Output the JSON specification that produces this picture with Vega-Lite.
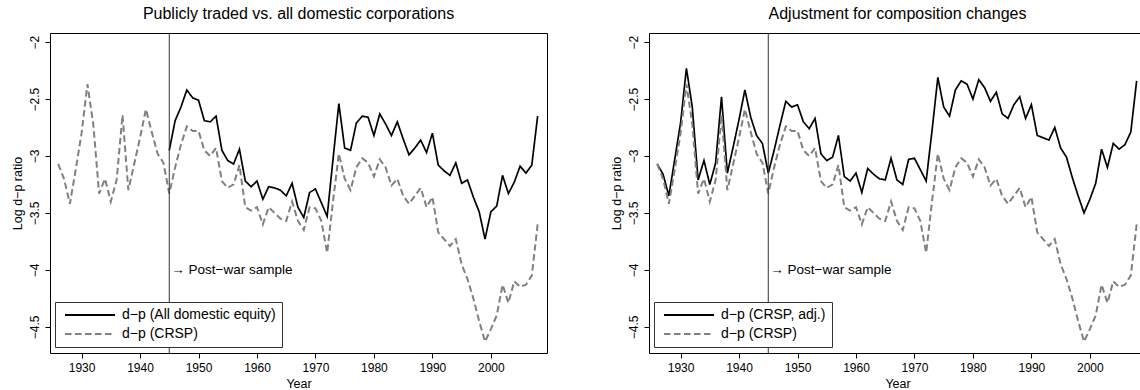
{
  "$schema": "https://vega.github.io/schema/vega-lite/v6.json",
  "background": "white",
  "padding": {"left": 10, "top": 5, "right": 0, "bottom": 0},
  "spacing": 61,
  "datasets": {
    "crsp": [
      {"year": 1926, "dp": -3.07, "series": "d−p (CRSP)"},
      {"year": 1927, "dp": -3.2, "series": "d−p (CRSP)"},
      {"year": 1928, "dp": -3.42, "series": "d−p (CRSP)"},
      {"year": 1929, "dp": -3.12, "series": "d−p (CRSP)"},
      {"year": 1930, "dp": -2.8, "series": "d−p (CRSP)"},
      {"year": 1931, "dp": -2.37, "series": "d−p (CRSP)"},
      {"year": 1932, "dp": -2.72, "series": "d−p (CRSP)"},
      {"year": 1933, "dp": -3.33, "series": "d−p (CRSP)"},
      {"year": 1934, "dp": -3.2, "series": "d−p (CRSP)"},
      {"year": 1935, "dp": -3.4, "series": "d−p (CRSP)"},
      {"year": 1936, "dp": -3.21, "series": "d−p (CRSP)"},
      {"year": 1937, "dp": -2.64, "series": "d−p (CRSP)"},
      {"year": 1938, "dp": -3.3, "series": "d−p (CRSP)"},
      {"year": 1939, "dp": -3.07, "series": "d−p (CRSP)"},
      {"year": 1940, "dp": -2.84, "series": "d−p (CRSP)"},
      {"year": 1941, "dp": -2.59, "series": "d−p (CRSP)"},
      {"year": 1942, "dp": -2.79, "series": "d−p (CRSP)"},
      {"year": 1943, "dp": -2.98, "series": "d−p (CRSP)"},
      {"year": 1944, "dp": -3.06, "series": "d−p (CRSP)"},
      {"year": 1945, "dp": -3.33, "series": "d−p (CRSP)"},
      {"year": 1946, "dp": -3.1, "series": "d−p (CRSP)"},
      {"year": 1947, "dp": -2.9, "series": "d−p (CRSP)"},
      {"year": 1948, "dp": -2.74, "series": "d−p (CRSP)"},
      {"year": 1949, "dp": -2.78, "series": "d−p (CRSP)"},
      {"year": 1950, "dp": -2.78, "series": "d−p (CRSP)"},
      {"year": 1951, "dp": -2.95, "series": "d−p (CRSP)"},
      {"year": 1952, "dp": -3.0, "series": "d−p (CRSP)"},
      {"year": 1953, "dp": -2.93, "series": "d−p (CRSP)"},
      {"year": 1954, "dp": -3.22, "series": "d−p (CRSP)"},
      {"year": 1955, "dp": -3.28, "series": "d−p (CRSP)"},
      {"year": 1956, "dp": -3.25, "series": "d−p (CRSP)"},
      {"year": 1957, "dp": -3.08, "series": "d−p (CRSP)"},
      {"year": 1958, "dp": -3.45, "series": "d−p (CRSP)"},
      {"year": 1959, "dp": -3.48, "series": "d−p (CRSP)"},
      {"year": 1960, "dp": -3.45, "series": "d−p (CRSP)"},
      {"year": 1961, "dp": -3.6, "series": "d−p (CRSP)"},
      {"year": 1962, "dp": -3.45, "series": "d−p (CRSP)"},
      {"year": 1963, "dp": -3.5, "series": "d−p (CRSP)"},
      {"year": 1964, "dp": -3.55, "series": "d−p (CRSP)"},
      {"year": 1965, "dp": -3.57, "series": "d−p (CRSP)"},
      {"year": 1966, "dp": -3.4, "series": "d−p (CRSP)"},
      {"year": 1967, "dp": -3.57, "series": "d−p (CRSP)"},
      {"year": 1968, "dp": -3.65, "series": "d−p (CRSP)"},
      {"year": 1969, "dp": -3.45, "series": "d−p (CRSP)"},
      {"year": 1970, "dp": -3.46, "series": "d−p (CRSP)"},
      {"year": 1971, "dp": -3.57, "series": "d−p (CRSP)"},
      {"year": 1972, "dp": -3.85, "series": "d−p (CRSP)"},
      {"year": 1973, "dp": -3.4, "series": "d−p (CRSP)"},
      {"year": 1974, "dp": -2.98, "series": "d−p (CRSP)"},
      {"year": 1975, "dp": -3.2, "series": "d−p (CRSP)"},
      {"year": 1976, "dp": -3.3, "series": "d−p (CRSP)"},
      {"year": 1977, "dp": -3.1, "series": "d−p (CRSP)"},
      {"year": 1978, "dp": -3.02, "series": "d−p (CRSP)"},
      {"year": 1979, "dp": -3.06, "series": "d−p (CRSP)"},
      {"year": 1980, "dp": -3.18, "series": "d−p (CRSP)"},
      {"year": 1981, "dp": -3.03, "series": "d−p (CRSP)"},
      {"year": 1982, "dp": -3.1, "series": "d−p (CRSP)"},
      {"year": 1983, "dp": -3.26, "series": "d−p (CRSP)"},
      {"year": 1984, "dp": -3.2, "series": "d−p (CRSP)"},
      {"year": 1985, "dp": -3.35, "series": "d−p (CRSP)"},
      {"year": 1986, "dp": -3.42, "series": "d−p (CRSP)"},
      {"year": 1987, "dp": -3.35, "series": "d−p (CRSP)"},
      {"year": 1988, "dp": -3.28, "series": "d−p (CRSP)"},
      {"year": 1989, "dp": -3.45, "series": "d−p (CRSP)"},
      {"year": 1990, "dp": -3.36, "series": "d−p (CRSP)"},
      {"year": 1991, "dp": -3.67, "series": "d−p (CRSP)"},
      {"year": 1992, "dp": -3.73, "series": "d−p (CRSP)"},
      {"year": 1993, "dp": -3.79, "series": "d−p (CRSP)"},
      {"year": 1994, "dp": -3.73, "series": "d−p (CRSP)"},
      {"year": 1995, "dp": -3.95, "series": "d−p (CRSP)"},
      {"year": 1996, "dp": -4.08, "series": "d−p (CRSP)"},
      {"year": 1997, "dp": -4.25, "series": "d−p (CRSP)"},
      {"year": 1998, "dp": -4.45, "series": "d−p (CRSP)"},
      {"year": 1999, "dp": -4.63, "series": "d−p (CRSP)"},
      {"year": 2000, "dp": -4.52, "series": "d−p (CRSP)"},
      {"year": 2001, "dp": -4.4, "series": "d−p (CRSP)"},
      {"year": 2002, "dp": -4.13, "series": "d−p (CRSP)"},
      {"year": 2003, "dp": -4.29, "series": "d−p (CRSP)"},
      {"year": 2004, "dp": -4.1, "series": "d−p (CRSP)"},
      {"year": 2005, "dp": -4.15, "series": "d−p (CRSP)"},
      {"year": 2006, "dp": -4.13, "series": "d−p (CRSP)"},
      {"year": 2007, "dp": -4.05, "series": "d−p (CRSP)"},
      {"year": 2008, "dp": -3.6, "series": "d−p (CRSP)"}
    ],
    "alldom": [
      {"year": 1945, "dp": -2.95, "series": "d−p (All domestic equity)"},
      {"year": 1946, "dp": -2.69, "series": "d−p (All domestic equity)"},
      {"year": 1947, "dp": -2.57, "series": "d−p (All domestic equity)"},
      {"year": 1948, "dp": -2.42, "series": "d−p (All domestic equity)"},
      {"year": 1949, "dp": -2.49, "series": "d−p (All domestic equity)"},
      {"year": 1950, "dp": -2.51, "series": "d−p (All domestic equity)"},
      {"year": 1951, "dp": -2.69, "series": "d−p (All domestic equity)"},
      {"year": 1952, "dp": -2.7, "series": "d−p (All domestic equity)"},
      {"year": 1953, "dp": -2.65, "series": "d−p (All domestic equity)"},
      {"year": 1954, "dp": -2.95, "series": "d−p (All domestic equity)"},
      {"year": 1955, "dp": -3.04, "series": "d−p (All domestic equity)"},
      {"year": 1956, "dp": -3.07, "series": "d−p (All domestic equity)"},
      {"year": 1957, "dp": -2.94, "series": "d−p (All domestic equity)"},
      {"year": 1958, "dp": -3.22, "series": "d−p (All domestic equity)"},
      {"year": 1959, "dp": -3.27, "series": "d−p (All domestic equity)"},
      {"year": 1960, "dp": -3.22, "series": "d−p (All domestic equity)"},
      {"year": 1961, "dp": -3.38, "series": "d−p (All domestic equity)"},
      {"year": 1962, "dp": -3.27, "series": "d−p (All domestic equity)"},
      {"year": 1963, "dp": -3.28, "series": "d−p (All domestic equity)"},
      {"year": 1964, "dp": -3.3, "series": "d−p (All domestic equity)"},
      {"year": 1965, "dp": -3.35, "series": "d−p (All domestic equity)"},
      {"year": 1966, "dp": -3.24, "series": "d−p (All domestic equity)"},
      {"year": 1967, "dp": -3.45, "series": "d−p (All domestic equity)"},
      {"year": 1968, "dp": -3.54, "series": "d−p (All domestic equity)"},
      {"year": 1969, "dp": -3.32, "series": "d−p (All domestic equity)"},
      {"year": 1970, "dp": -3.29, "series": "d−p (All domestic equity)"},
      {"year": 1971, "dp": -3.41, "series": "d−p (All domestic equity)"},
      {"year": 1972, "dp": -3.53, "series": "d−p (All domestic equity)"},
      {"year": 1973, "dp": -3.03, "series": "d−p (All domestic equity)"},
      {"year": 1974, "dp": -2.54, "series": "d−p (All domestic equity)"},
      {"year": 1975, "dp": -2.93, "series": "d−p (All domestic equity)"},
      {"year": 1976, "dp": -2.95, "series": "d−p (All domestic equity)"},
      {"year": 1977, "dp": -2.71, "series": "d−p (All domestic equity)"},
      {"year": 1978, "dp": -2.65, "series": "d−p (All domestic equity)"},
      {"year": 1979, "dp": -2.66, "series": "d−p (All domestic equity)"},
      {"year": 1980, "dp": -2.82, "series": "d−p (All domestic equity)"},
      {"year": 1981, "dp": -2.63, "series": "d−p (All domestic equity)"},
      {"year": 1982, "dp": -2.72, "series": "d−p (All domestic equity)"},
      {"year": 1983, "dp": -2.82, "series": "d−p (All domestic equity)"},
      {"year": 1984, "dp": -2.7, "series": "d−p (All domestic equity)"},
      {"year": 1985, "dp": -2.85, "series": "d−p (All domestic equity)"},
      {"year": 1986, "dp": -2.99, "series": "d−p (All domestic equity)"},
      {"year": 1987, "dp": -2.93, "series": "d−p (All domestic equity)"},
      {"year": 1988, "dp": -2.86, "series": "d−p (All domestic equity)"},
      {"year": 1989, "dp": -2.97, "series": "d−p (All domestic equity)"},
      {"year": 1990, "dp": -2.8, "series": "d−p (All domestic equity)"},
      {"year": 1991, "dp": -3.08, "series": "d−p (All domestic equity)"},
      {"year": 1992, "dp": -3.13, "series": "d−p (All domestic equity)"},
      {"year": 1993, "dp": -3.17, "series": "d−p (All domestic equity)"},
      {"year": 1994, "dp": -3.06, "series": "d−p (All domestic equity)"},
      {"year": 1995, "dp": -3.24, "series": "d−p (All domestic equity)"},
      {"year": 1996, "dp": -3.21, "series": "d−p (All domestic equity)"},
      {"year": 1997, "dp": -3.36, "series": "d−p (All domestic equity)"},
      {"year": 1998, "dp": -3.49, "series": "d−p (All domestic equity)"},
      {"year": 1999, "dp": -3.73, "series": "d−p (All domestic equity)"},
      {"year": 2000, "dp": -3.49, "series": "d−p (All domestic equity)"},
      {"year": 2001, "dp": -3.44, "series": "d−p (All domestic equity)"},
      {"year": 2002, "dp": -3.17, "series": "d−p (All domestic equity)"},
      {"year": 2003, "dp": -3.33, "series": "d−p (All domestic equity)"},
      {"year": 2004, "dp": -3.23, "series": "d−p (All domestic equity)"},
      {"year": 2005, "dp": -3.09, "series": "d−p (All domestic equity)"},
      {"year": 2006, "dp": -3.15, "series": "d−p (All domestic equity)"},
      {"year": 2007, "dp": -3.08, "series": "d−p (All domestic equity)"},
      {"year": 2008, "dp": -2.65, "series": "d−p (All domestic equity)"}
    ],
    "adj": [
      {"year": 1926, "dp": -3.07, "series": "d−p (CRSP, adj.)"},
      {"year": 1927, "dp": -3.16, "series": "d−p (CRSP, adj.)"},
      {"year": 1928, "dp": -3.35, "series": "d−p (CRSP, adj.)"},
      {"year": 1929, "dp": -3.03, "series": "d−p (CRSP, adj.)"},
      {"year": 1930, "dp": -2.71, "series": "d−p (CRSP, adj.)"},
      {"year": 1931, "dp": -2.23, "series": "d−p (CRSP, adj.)"},
      {"year": 1932, "dp": -2.57, "series": "d−p (CRSP, adj.)"},
      {"year": 1933, "dp": -3.21, "series": "d−p (CRSP, adj.)"},
      {"year": 1934, "dp": -3.04, "series": "d−p (CRSP, adj.)"},
      {"year": 1935, "dp": -3.25, "series": "d−p (CRSP, adj.)"},
      {"year": 1936, "dp": -3.06, "series": "d−p (CRSP, adj.)"},
      {"year": 1937, "dp": -2.48, "series": "d−p (CRSP, adj.)"},
      {"year": 1938, "dp": -3.15, "series": "d−p (CRSP, adj.)"},
      {"year": 1939, "dp": -2.92, "series": "d−p (CRSP, adj.)"},
      {"year": 1940, "dp": -2.68, "series": "d−p (CRSP, adj.)"},
      {"year": 1941, "dp": -2.42, "series": "d−p (CRSP, adj.)"},
      {"year": 1942, "dp": -2.66, "series": "d−p (CRSP, adj.)"},
      {"year": 1943, "dp": -2.82, "series": "d−p (CRSP, adj.)"},
      {"year": 1944, "dp": -2.89, "series": "d−p (CRSP, adj.)"},
      {"year": 1945, "dp": -3.15, "series": "d−p (CRSP, adj.)"},
      {"year": 1946, "dp": -2.95, "series": "d−p (CRSP, adj.)"},
      {"year": 1947, "dp": -2.73, "series": "d−p (CRSP, adj.)"},
      {"year": 1948, "dp": -2.52, "series": "d−p (CRSP, adj.)"},
      {"year": 1949, "dp": -2.57, "series": "d−p (CRSP, adj.)"},
      {"year": 1950, "dp": -2.55, "series": "d−p (CRSP, adj.)"},
      {"year": 1951, "dp": -2.7, "series": "d−p (CRSP, adj.)"},
      {"year": 1952, "dp": -2.76, "series": "d−p (CRSP, adj.)"},
      {"year": 1953, "dp": -2.67, "series": "d−p (CRSP, adj.)"},
      {"year": 1954, "dp": -2.98, "series": "d−p (CRSP, adj.)"},
      {"year": 1955, "dp": -3.04, "series": "d−p (CRSP, adj.)"},
      {"year": 1956, "dp": -3.01, "series": "d−p (CRSP, adj.)"},
      {"year": 1957, "dp": -2.82, "series": "d−p (CRSP, adj.)"},
      {"year": 1958, "dp": -3.18, "series": "d−p (CRSP, adj.)"},
      {"year": 1959, "dp": -3.22, "series": "d−p (CRSP, adj.)"},
      {"year": 1960, "dp": -3.15, "series": "d−p (CRSP, adj.)"},
      {"year": 1961, "dp": -3.32, "series": "d−p (CRSP, adj.)"},
      {"year": 1962, "dp": -3.11, "series": "d−p (CRSP, adj.)"},
      {"year": 1963, "dp": -3.16, "series": "d−p (CRSP, adj.)"},
      {"year": 1964, "dp": -3.2, "series": "d−p (CRSP, adj.)"},
      {"year": 1965, "dp": -3.21, "series": "d−p (CRSP, adj.)"},
      {"year": 1966, "dp": -3.02, "series": "d−p (CRSP, adj.)"},
      {"year": 1967, "dp": -3.21, "series": "d−p (CRSP, adj.)"},
      {"year": 1968, "dp": -3.25, "series": "d−p (CRSP, adj.)"},
      {"year": 1969, "dp": -3.03, "series": "d−p (CRSP, adj.)"},
      {"year": 1970, "dp": -3.02, "series": "d−p (CRSP, adj.)"},
      {"year": 1971, "dp": -3.12, "series": "d−p (CRSP, adj.)"},
      {"year": 1972, "dp": -3.22, "series": "d−p (CRSP, adj.)"},
      {"year": 1973, "dp": -2.78, "series": "d−p (CRSP, adj.)"},
      {"year": 1974, "dp": -2.31, "series": "d−p (CRSP, adj.)"},
      {"year": 1975, "dp": -2.57, "series": "d−p (CRSP, adj.)"},
      {"year": 1976, "dp": -2.65, "series": "d−p (CRSP, adj.)"},
      {"year": 1977, "dp": -2.42, "series": "d−p (CRSP, adj.)"},
      {"year": 1978, "dp": -2.34, "series": "d−p (CRSP, adj.)"},
      {"year": 1979, "dp": -2.37, "series": "d−p (CRSP, adj.)"},
      {"year": 1980, "dp": -2.5, "series": "d−p (CRSP, adj.)"},
      {"year": 1981, "dp": -2.33, "series": "d−p (CRSP, adj.)"},
      {"year": 1982, "dp": -2.4, "series": "d−p (CRSP, adj.)"},
      {"year": 1983, "dp": -2.52, "series": "d−p (CRSP, adj.)"},
      {"year": 1984, "dp": -2.44, "series": "d−p (CRSP, adj.)"},
      {"year": 1985, "dp": -2.63, "series": "d−p (CRSP, adj.)"},
      {"year": 1986, "dp": -2.67, "series": "d−p (CRSP, adj.)"},
      {"year": 1987, "dp": -2.55, "series": "d−p (CRSP, adj.)"},
      {"year": 1988, "dp": -2.48, "series": "d−p (CRSP, adj.)"},
      {"year": 1989, "dp": -2.67, "series": "d−p (CRSP, adj.)"},
      {"year": 1990, "dp": -2.55, "series": "d−p (CRSP, adj.)"},
      {"year": 1991, "dp": -2.82, "series": "d−p (CRSP, adj.)"},
      {"year": 1992, "dp": -2.84, "series": "d−p (CRSP, adj.)"},
      {"year": 1993, "dp": -2.86, "series": "d−p (CRSP, adj.)"},
      {"year": 1994, "dp": -2.75, "series": "d−p (CRSP, adj.)"},
      {"year": 1995, "dp": -2.93, "series": "d−p (CRSP, adj.)"},
      {"year": 1996, "dp": -3.01, "series": "d−p (CRSP, adj.)"},
      {"year": 1997, "dp": -3.19, "series": "d−p (CRSP, adj.)"},
      {"year": 1998, "dp": -3.35, "series": "d−p (CRSP, adj.)"},
      {"year": 1999, "dp": -3.5, "series": "d−p (CRSP, adj.)"},
      {"year": 2000, "dp": -3.38, "series": "d−p (CRSP, adj.)"},
      {"year": 2001, "dp": -3.24, "series": "d−p (CRSP, adj.)"},
      {"year": 2002, "dp": -2.94, "series": "d−p (CRSP, adj.)"},
      {"year": 2003, "dp": -3.1, "series": "d−p (CRSP, adj.)"},
      {"year": 2004, "dp": -2.89, "series": "d−p (CRSP, adj.)"},
      {"year": 2005, "dp": -2.94, "series": "d−p (CRSP, adj.)"},
      {"year": 2006, "dp": -2.9, "series": "d−p (CRSP, adj.)"},
      {"year": 2007, "dp": -2.79, "series": "d−p (CRSP, adj.)"},
      {"year": 2008, "dp": -2.34, "series": "d−p (CRSP, adj.)"}
    ],
    "marker": [
      {"year": 1945, "dp": -4.0, "label": "→ Post−war sample"}
    ]
  },
  "hconcat": [
    {
      "title": "Publicly traded vs. all domestic corporations",
      "width": 497,
      "height": 320,
      "layer": [
        {
          "data": {"name": "alldom"},
          "mark": {"type": "line", "strokeWidth": 1.7},
          "encoding": {
            "x": {"field": "year", "type": "quantitative", "title": "Year",
              "scale": {"domain": [1924.6, 2009.6], "nice": false, "zero": false},
              "axis": {"values": [1930, 1935, 1940, 1945, 1950, 1955, 1960, 1965, 1970, 1975, 1980, 1985, 1990, 1995, 2000, 2005], "format": "d",
                "labelExpr": "datum.value % 10 === 0 ? datum.label : ''",
                "tickSize": {"condition": {"test": "datum.value % 10 === 0", "value": 5}, "value": 3}}},
            "y": {"field": "dp", "type": "quantitative", "title": "Log d−p ratio",
              "scale": {"domain": [-4.73, -1.92], "nice": false, "zero": false},
              "axis": {"values": [-4.5, -4, -3.5, -3, -2.5, -2], "format": "~g"}},
            "color": {"field": "series", "type": "nominal",
              "scale": {"domain": ["d−p (All domestic equity)", "d−p (CRSP)"], "range": ["#000000", "#808080"]},
              "legend": {"orient": "none", "legendX": 5, "legendY": 269}},
            "strokeDash": {"field": "series", "type": "nominal",
              "scale": {"domain": ["d−p (All domestic equity)", "d−p (CRSP)"], "range": [[1, 0], [6.5, 3.5]]},
              "legend": {"orient": "none", "legendX": 5, "legendY": 269}}
          }
        },
        {
          "data": {"name": "crsp"},
          "mark": {"type": "line", "strokeWidth": 2},
          "encoding": {
            "x": {"field": "year", "type": "quantitative", "title": "Year",
              "scale": {"domain": [1924.6, 2009.6], "nice": false, "zero": false}},
            "y": {"field": "dp", "type": "quantitative", "title": "Log d−p ratio",
              "scale": {"domain": [-4.73, -1.92], "nice": false, "zero": false}},
            "color": {"field": "series", "type": "nominal",
              "scale": {"domain": ["d−p (All domestic equity)", "d−p (CRSP)"], "range": ["#000000", "#808080"]},
              "legend": {"orient": "none", "legendX": 5, "legendY": 269}},
            "strokeDash": {"field": "series", "type": "nominal",
              "scale": {"domain": ["d−p (All domestic equity)", "d−p (CRSP)"], "range": [[1, 0], [6.5, 3.5]]},
              "legend": {"orient": "none", "legendX": 5, "legendY": 269}}
          }
        },
        {
          "data": {"name": "marker"},
          "mark": {"type": "rule", "color": "#333333", "strokeWidth": 1},
          "encoding": {
            "x": {"field": "year", "type": "quantitative", "title": "Year",
              "scale": {"domain": [1924.6, 2009.6], "nice": false, "zero": false}}
          }
        },
        {
          "data": {"name": "marker"},
          "mark": {"type": "text", "align": "left", "baseline": "middle", "dx": 2, "fontSize": 13.5, "color": "#000000"},
          "encoding": {
            "x": {"field": "year", "type": "quantitative", "title": "Year",
              "scale": {"domain": [1924.6, 2009.6], "nice": false, "zero": false}},
            "y": {"field": "dp", "type": "quantitative", "title": "Log d−p ratio",
              "scale": {"domain": [-4.73, -1.92], "nice": false, "zero": false}},
            "text": {"field": "label"}
          }
        }
      ]
    },
    {
      "title": "Adjustment for composition changes",
      "width": 497,
      "height": 320,
      "layer": [
        {
          "data": {"name": "adj"},
          "mark": {"type": "line", "strokeWidth": 1.7},
          "encoding": {
            "x": {"field": "year", "type": "quantitative", "title": "Year",
              "scale": {"domain": [1924.6, 2009.6], "nice": false, "zero": false},
              "axis": {"values": [1930, 1935, 1940, 1945, 1950, 1955, 1960, 1965, 1970, 1975, 1980, 1985, 1990, 1995, 2000, 2005], "format": "d",
                "labelExpr": "datum.value % 10 === 0 ? datum.label : ''",
                "tickSize": {"condition": {"test": "datum.value % 10 === 0", "value": 5}, "value": 3}}},
            "y": {"field": "dp", "type": "quantitative", "title": "Log d−p ratio",
              "scale": {"domain": [-4.73, -1.92], "nice": false, "zero": false},
              "axis": {"values": [-4.5, -4, -3.5, -3, -2.5, -2], "format": "~g"}},
            "color": {"field": "series", "type": "nominal",
              "scale": {"domain": ["d−p (CRSP, adj.)", "d−p (CRSP)"], "range": ["#000000", "#808080"]},
              "legend": {"orient": "none", "legendX": 5, "legendY": 269}},
            "strokeDash": {"field": "series", "type": "nominal",
              "scale": {"domain": ["d−p (CRSP, adj.)", "d−p (CRSP)"], "range": [[1, 0], [6.5, 3.5]]},
              "legend": {"orient": "none", "legendX": 5, "legendY": 269}}
          }
        },
        {
          "data": {"name": "crsp"},
          "mark": {"type": "line", "strokeWidth": 2},
          "encoding": {
            "x": {"field": "year", "type": "quantitative", "title": "Year",
              "scale": {"domain": [1924.6, 2009.6], "nice": false, "zero": false}},
            "y": {"field": "dp", "type": "quantitative", "title": "Log d−p ratio",
              "scale": {"domain": [-4.73, -1.92], "nice": false, "zero": false}},
            "color": {"field": "series", "type": "nominal",
              "scale": {"domain": ["d−p (CRSP, adj.)", "d−p (CRSP)"], "range": ["#000000", "#808080"]},
              "legend": {"orient": "none", "legendX": 5, "legendY": 269}},
            "strokeDash": {"field": "series", "type": "nominal",
              "scale": {"domain": ["d−p (CRSP, adj.)", "d−p (CRSP)"], "range": [[1, 0], [6.5, 3.5]]},
              "legend": {"orient": "none", "legendX": 5, "legendY": 269}}
          }
        },
        {
          "data": {"name": "marker"},
          "mark": {"type": "rule", "color": "#333333", "strokeWidth": 1},
          "encoding": {
            "x": {"field": "year", "type": "quantitative", "title": "Year",
              "scale": {"domain": [1924.6, 2009.6], "nice": false, "zero": false}}
          }
        },
        {
          "data": {"name": "marker"},
          "mark": {"type": "text", "align": "left", "baseline": "middle", "dx": 2, "fontSize": 13.5, "color": "#000000"},
          "encoding": {
            "x": {"field": "year", "type": "quantitative", "title": "Year",
              "scale": {"domain": [1924.6, 2009.6], "nice": false, "zero": false}},
            "y": {"field": "dp", "type": "quantitative", "title": "Log d−p ratio",
              "scale": {"domain": [-4.73, -1.92], "nice": false, "zero": false}},
            "text": {"field": "label"}
          }
        }
      ]
    }
  ],
  "resolve": {
    "scale": {"color": "independent", "strokeDash": "independent", "x": "independent", "y": "independent"},
    "legend": {"color": "independent", "strokeDash": "independent"}
  },
  "config": {
    "font": "Liberation Sans",
    "view": {"stroke": "#000000", "strokeWidth": 1},
    "title": {"fontSize": 16, "fontWeight": "normal", "color": "#000000", "offset": 11, "font": "Liberation Sans"},
    "axis": {
      "grid": false, "domain": false, "tickColor": "#000000", "tickWidth": 1,
      "labelColor": "#000000", "labelFontSize": 12, "labelFont": "Liberation Sans",
      "titleColor": "#000000", "titleFontSize": 12.5, "titleFontWeight": "normal", "titleFont": "Liberation Sans",
      "labelFlush": false, "labelOverlap": false
    },
    "axisX": {"labelPadding": 4, "titlePadding": 4},
    "axisY": {"tickSize": 5, "labelAngle": -90, "labelAlign": "center", "labelBaseline": "bottom", "labelPadding": 4, "titlePadding": 4},
    "legend": {
      "title": null, "strokeColor": "#333333", "fillColor": "#ffffff", "padding": 6,
      "symbolType": "M-3,0H47", "symbolSize": 4, "symbolStrokeWidth": 2,
      "labelFontSize": 14, "labelColor": "#000000", "labelFont": "Liberation Sans",
      "labelOffset": 47, "rowPadding": 5, "cornerRadius": 0
    },
    "line": {"strokeCap": "butt", "strokeJoin": "miter"}
  }
}
